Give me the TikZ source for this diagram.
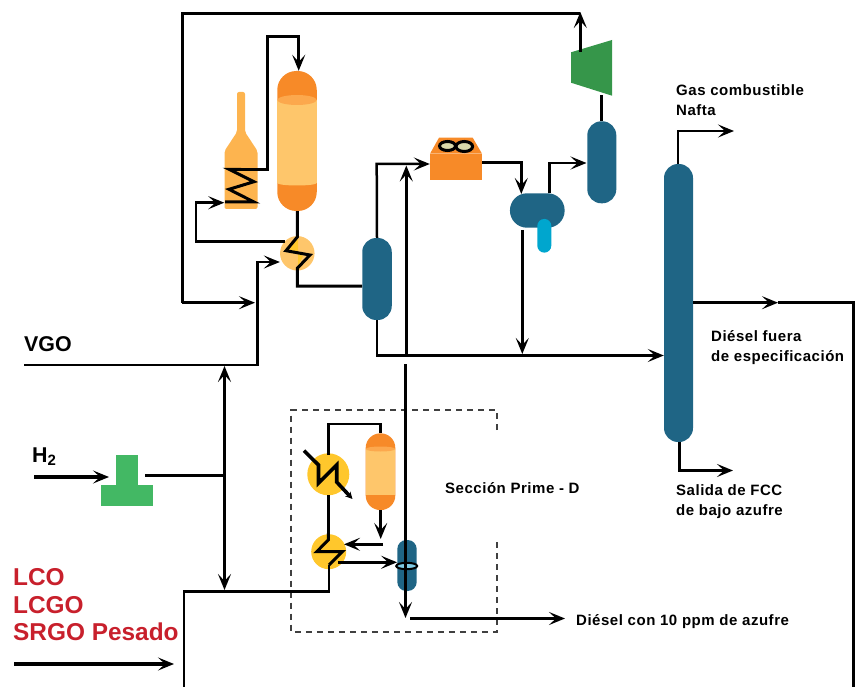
\documentclass[tikz,border=0pt]{standalone}
\usepackage{fontspec}
\setmainfont{Liberation Sans}
\newfontfamily\labelfont[LetterSpace=3.5]{Liberation Sans}
\usetikzlibrary{calc,arrows.meta,positioning,shapes.geometric}
\definecolor{vesselBlue}{RGB}{31,101,133}
\definecolor{bootBlue}{RGB}{0,166,206}
\definecolor{ringBlue}{RGB}{127,203,229}
\definecolor{shellOrange}{RGB}{247,138,40}
\definecolor{capOrange}{RGB}{252,168,77}
\definecolor{bodyOrange}{RGB}{254,198,107}
\definecolor{furnOrange}{RGB}{253,180,79}
\definecolor{exchYellow}{RGB}{255,199,44}
\definecolor{compGreen}{RGB}{54,150,74}
\definecolor{makeupGreen}{RGB}{67,184,100}
\definecolor{feedRed}{RGB}{200,32,44}
\definecolor{fanPale}{RGB}{217,217,170}

\begin{document}
\begin{tikzpicture}[x=1pt,y=-1pt,>={Stealth[length=16pt,width=13pt,inset=7pt]},
  vessel/.style={rounded corners=#1, inner sep=0pt, fill=vesselBlue},
  vessel/.default=14pt,
  reactorshell/.style={rounded corners=#1, inner sep=0pt, fill=shellOrange},
  reactorbody/.style={inner sep=0pt, fill=bodyOrange},
  exch/.style={circle, inner sep=0pt, fill=exchYellow},
  block/.style={inner sep=0pt},
  flow/.style={thick line, line join=miter},
  thick line/.style={line width=2.5pt},
  heavy/.style={line width=3.2pt},
  lbl/.style={anchor=north west, inner sep=0pt, align=left, font=\labelfont\bfseries\fontsize{15}{20}\selectfont},
  feedlbl/.style={anchor=base west, inner sep=0pt, font=\bfseries\fontsize{21.4}{24}\selectfont},
  redlbl/.style={anchor=base west, inner sep=0pt, text=feedRed, font=\bfseries\fontsize{24.4}{26}\selectfont}]
  \useasboundingbox (0,0) rectangle (857,687);

  % upper section equipment
  \fill[furnOrange, rounded corners=2pt] (224.5,209) -- (224.5,151) -- (237,132) -- (237,92) -- (245,92) -- (245,132) -- (257.5,151) -- (257.5,209) -- cycle;
  \node[block, minimum width=33pt, minimum height=57pt] (furn) at (241,180.5) {};
  \node[reactorshell=19pt, minimum width=39.5pt, minimum height=140pt] (reac) at (297,141) {};
  \node[reactorbody, minimum width=39.5pt, minimum height=83pt] (reacbody) at (297,141.5) {};
  \fill[capOrange] (297,100) ellipse [x radius=19.7, y radius=5];
  \fill[bodyOrange] (297,183) ellipse [x radius=19.7, y radius=2.5];
  \node[exch, fill=bodyOrange, minimum size=34.5pt] (hx) at (297.3,253.3) {};
  \fill[exchYellow] (291,246) -- (298,238) -- (298,266) -- (303,256) -- (289,251) -- cycle;
  \node[vessel, minimum width=29.5pt, minimum height=82pt] (sepa) at (377,279) {};
  \node[vessel, minimum width=29pt, minimum height=82pt] (sepb) at (601.8,162.3) {};
  \node[vessel=17pt, minimum width=54.7pt, minimum height=34.4pt] (flash) at (537.3,210.5) {};
  \node[vessel=7pt, fill=bootBlue, minimum width=14pt, minimum height=33.7pt] (boot) at (544.3,235.8) {};
  \node[vessel, minimum width=29pt, minimum height=278pt] (frac) at (678.5,303) {};

  % air cooler
  \fill[shellOrange] (430,153.7) -- (439,137.7) -- (472.7,137.7) -- (482,153.7) -- cycle;
  \node[block, fill=shellOrange, minimum width=52pt, minimum height=26.3pt] (cool) at (456,166.8) {};
  \draw[line width=3pt, fill=fanPale] (447.5,146) ellipse [x radius=8, y radius=4.5];
  \draw[line width=3pt, fill=fanPale] (464.3,146.5) ellipse [x radius=8.3, y radius=5];

  % recycle compressor
  \fill[compGreen] (571,52.3) -- (612,40) -- (612,95.7) -- (571,82.7) -- cycle;

  % makeup hydrogen compressor
  \node[block, fill=makeupGreen, minimum width=22pt, minimum height=31pt] (mkup) at (127,470.5) {};
  \node[block, fill=makeupGreen, minimum width=52pt, minimum height=21pt] (mkbase) at (127,495.5) {};

  % prime-d section equipment
  \draw[line width=2pt, black!75, dash pattern=on 6pt off 5pt] (496.7,430) -- (496.7,410) -- (291.3,410) -- (291.3,632) -- (496.7,632) -- (496.7,539);
  \node[exch, minimum size=42pt] (cooler) at (328.3,474.3) {};
  \node[exch, minimum size=35pt] (hxb) at (328.7,551.7) {};
  \node[reactorshell=14.5pt, minimum width=29.6pt, minimum height=76.7pt] (reacb) at (380.5,471.7) {};
  \node[reactorbody, minimum width=29.6pt, minimum height=46pt] (reacbbody) at (380.5,471.8) {};
  \fill[capOrange] (380.5,449) ellipse [x radius=14.8, y radius=2.5];
  \node[vessel=9pt, minimum width=19.4pt, minimum height=51pt] (sepc) at (407,565.5) {};

  % free ends and tap points
  \coordinate (vgo) at (24,365);
  \coordinate (hin) at (34,477);
  \coordinate (lcoin) at (14,664);
  \coordinate (lcotip) at (174,664);
  \coordinate (flashtap) at (522.3,230);
  \coordinate (prodtip) at (405.5,618);
  \coordinate (prodout) at (565,618.5);
  \coordinate (fgtip) at (734,131);
  \coordinate (bttip) at (733,470.5);
  \coordinate (dieselmid) at (778,302.7);
  \coordinate (junctop) at (406.3,355.5);
  \coordinate (bustop) at (224.5,366);
  \coordinate (busbot) at (224.5,590);
  \coordinate (busin) at (224.5,475.3);

  % upper section lines
  \draw[flow, line width=3pt] (241,169.3) -- (229,169.3) -- (254,181.7) -- (229,189.3) -- (254,202) -- (225,202);
  \draw[flow, ->] (241,169.3) -- (267.5,169.3) -- (267.5,36.7) -- (298.7,36.7) -- (reac.north -| 298.7,0);
  \draw[flow, line width=3pt] (reac.south -| 297.3,0) -- (297.3,237) -- (286,250.7) -- (310,255) -- (297.3,268.3) -- (297.3,286) -- (sepa.west |- 0,286);
  \draw[flow, ->] (285,241.7) -- (196,241.7) -- (196,202.7) -- (furn.west |- 0,202.7);
  \draw[flow, ->] (vgo) -- (257.5,365) -- (257.5,262) -- (hx.west |- 0,262);
  \draw[heavy, ->] (580.3,52) -- (580.3,12);
  \draw[flow] (580.3,13.3) -- (182.3,13.3) -- (182.3,302.7);
  \draw[flow, ->] (182.3,302.7) -- (255,302.7);
  \draw[flow, ->] (sepa.north) -- (376.7,164) -- (cool.west |- 0,164);
  \draw[heavy, ->] (junctop) -- (406.3,165.5);
  \draw[flow, ->] (sepa.south) -- (377,355.5) -- (frac.west |- 0,355.5);
  \draw[flow, ->] (cool.east |- 0,162.7) -- (521.3,162.7) -- (521.3,194);
  \draw[flow, ->] (549.3,193.3) -- (549.3,163) -- (586.5,163);
  \draw[heavy] (601.3,95.5) -- (sepb.north -| 601.3,0);
  \draw[flow, ->] (flashtap) -- (522.3,354);
  \draw[flow, ->] (frac.north -| 678,0) -- (678,131) -- (fgtip);
  \draw[flow, ->] (frac.east |- 0,302.7) -- (dieselmid);
  \draw[flow] (dieselmid) -- (853.5,302.7) -- (853.5,687);
  \draw[flow, ->] (frac.south -| 679.7,0) -- (679.7,470.5) -- (bttip);

  % hydrogen and bus
  \draw[heavy, ->] (hin) -- (109,477);
  \draw[heavy] (145,475.3) -- (busin);
  \draw[heavy, ->] (busin) -- (bustop);
  \draw[heavy, ->] (busin) -- (busbot);
  \draw[heavy, ->] (lcoin) -- (lcotip);
  \draw[flow] (184,687) -- (184,591.7) -- (329,591.7) -- (329,565);

  % prime-d section lines
  \draw[flow, line width=3pt] (329,565) -- (342.3,551.7) -- (316.7,551.7) -- (328.3,540) -- (328.3,533);
  \draw[flow] (328.3,533) -- (328.3,495);
  \draw[flow] (328.3,455) -- (328.3,424) -- (380.7,424) -- (reacb.north -| 380.7,0);
  \draw[line width=3.6pt, -{Stealth[length=7pt,width=7pt]}] (304,450.7) -- (318.5,465) -- (318.5,483) -- (336.7,465) -- (336.7,482) -- (352.5,499);
  \draw[flow, ->] (reacb.south -| 380.7,0) -- (380.7,539);
  \draw[heavy, ->] (383,544.3) -- (344,544.3);
  \draw[heavy, ->] (338.3,562.3) -- (sepc.west |- 0,562.3);
  \draw[line width=2pt, fill=ringBlue] (406.7,566) ellipse [x radius=10.5, y radius=3.2];
  \draw[heavy, ->] (405.5,364) -- (prodtip);
  \draw[heavy, ->] (410,618.5) -- (prodout);

  % labels
  \node[lbl] (fglbl) at (676,84) {Gas combustible\\Nafta};
  \node[lbl] (dslbl) at (711,330) {Diésel fuera\\de especificación};
  \node[lbl] (lslbl) at (676,484) {Salida de FCC\\de bajo azufre};
  \node[lbl] (prlbl) at (445,482) {Sección Prime - D};
  \node[lbl] (ulbl) at (576,614) {Diésel con 10 ppm de azufre};
  \node[feedlbl] (vgolbl) at (24,351) {VGO};
  \node[feedlbl] (hlbl) at (32,462) {H\textsubscript{2}};
  \node[redlbl] (lcolbl) at (13,585) {LCO};
  \node[redlbl] (lcgolbl) at (13,613) {LCGO};
  \node[redlbl] (srgolbl) at (13,640) {SRGO Pesado};
\end{tikzpicture}
\end{document}
